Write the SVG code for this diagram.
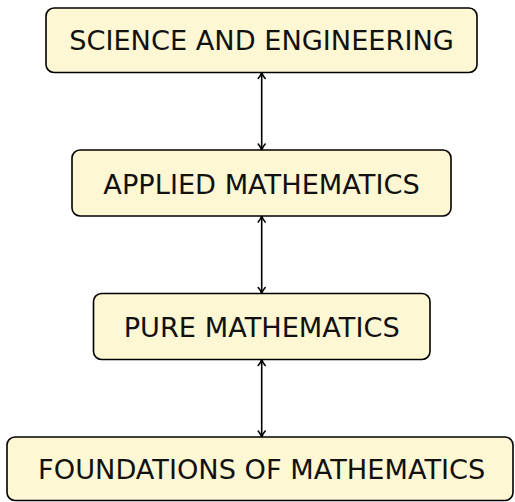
<svg xmlns="http://www.w3.org/2000/svg" width="515" height="502" viewBox="0 0 515 502">
<style>
.box{fill:#fdf7d3;stroke:#000;stroke-width:1.6}
.lbl{font-family:"DejaVu Sans",sans-serif;font-size:27.2px;fill:#111;text-anchor:middle}
.con{stroke:#000;stroke-width:1.6;fill:none;marker-start:url(#ah);marker-end:url(#ah)}
</style>
<defs>
<marker id="ah" viewBox="0 0 10 10" refX="9" refY="5" markerWidth="10" markerHeight="10" markerUnits="userSpaceOnUse" orient="auto-start-reverse">
<path d="M3,1.5 Q6,4.2 9,5 Q6,5.8 3,8.5" fill="none" stroke="#000" stroke-width="1.6" stroke-linecap="round" stroke-linejoin="round"/>
</marker>
</defs>
<rect width="515" height="502" fill="#fff"/>
<g id="connectors">
<line class="con" x1="261.7" y1="72.5" x2="261.7" y2="150"/>
<line class="con" x1="261.7" y1="216" x2="261.7" y2="293.5"/>
<line class="con" x1="261.7" y1="359.5" x2="261.7" y2="437"/>
</g>
<g id="science">
<rect class="box" x="46" y="8" width="431" height="64.5" rx="8"/>
<text class="lbl" x="261.5" y="49.5">SCIENCE AND ENGINEERING</text>
</g>
<g id="applied">
<rect class="box" x="72" y="150" width="379" height="66" rx="8"/>
<text class="lbl" x="261.5" y="194.3">APPLIED MATHEMATICS</text>
</g>
<g id="pure">
<rect class="box" x="93.5" y="293.5" width="336.5" height="66" rx="8"/>
<text class="lbl" x="261.7" y="336.6">PURE MATHEMATICS</text>
</g>
<g id="foundations">
<rect class="box" x="7" y="437" width="506" height="63.5" rx="8"/>
<text class="lbl" x="261.7" y="479.4">FOUNDATIONS OF MATHEMATICS</text>
</g>
</svg>
